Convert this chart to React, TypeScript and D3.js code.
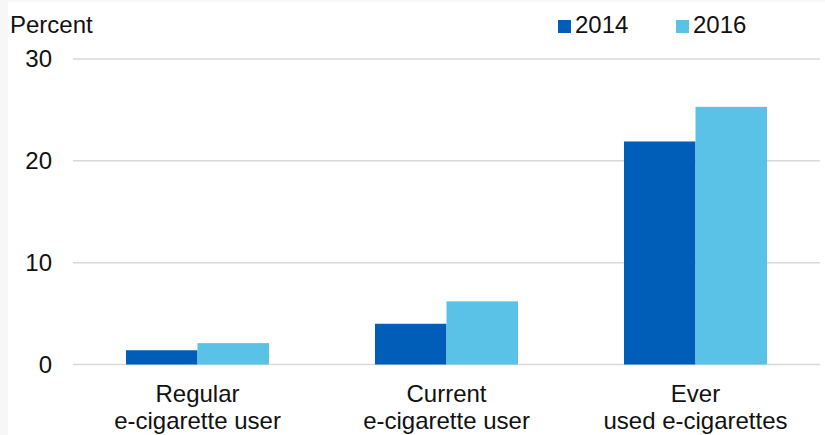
import React, { useEffect, useRef } from 'react';
import * as d3 from 'd3';

const categories = ['Regular\ne-cigarette user', 'Current\ne-cigarette user', 'Ever\nused e-cigarettes'];
const seriesNames = ['2014', '2016'];
const values2014 = [1.4, 4.0, 21.9];
const values2016 = [2.1, 6.2, 25.3];
const yTicks = [0, 10, 20, 30];

const colors = ['#005EB8', '#5BC2E7'];

const App: React.FC = () => {
  const svgRef = useRef<SVGSVGElement>(null);

  useEffect(() => {
    if (!svgRef.current) return;
    const width = 825;
    const height = 435;
    const font = '"Liberation Sans", Arial, sans-serif';
    const fs = 24;

    const svg = d3.select(svgRef.current);
    svg.selectAll('*').remove();
    svg.attr('width', width).attr('height', height);

    // faint frame on the left/top edges
    svg.append('rect').attr('width', width).attr('height', height).attr('fill', '#f7f7f7');
    svg.append('rect').attr('x', 8).attr('y', 2).attr('width', width - 8).attr('height', height - 2).attr('fill', '#fff');

    const x0 = d3.scaleBand<string>().domain(categories).range([73, 820]).padding(0);
    const x1 = d3.scaleBand<string>().domain(seriesNames).range([53, 196]).padding(0);
    const y = d3.scaleLinear().domain([0, 30]).range([364.5, 59]);

    // gridlines
    svg.append('g')
      .selectAll('line')
      .data(yTicks)
      .join('line')
      .attr('x1', 73)
      .attr('x2', 820)
      .attr('y1', d => y(d))
      .attr('y2', d => y(d))
      .attr('stroke', '#d9d9d9')
      .attr('stroke-width', 1.5);

    // y tick labels
    svg.append('g')
      .selectAll('text')
      .data(yTicks)
      .join('text')
      .attr('x', 52)
      .attr('y', d => y(d))
      .attr('dy', '0.35em')
      .attr('text-anchor', 'end')
      .attr('font-family', font)
      .attr('font-size', fs)
      .attr('fill', '#111')
      .text(d => d);

    svg.append('text')
      .attr('x', 10)
      .attr('y', 33)
      .attr('font-family', font)
      .attr('font-size', fs)
      .attr('fill', '#111')
      .text('Percent');

    // bars
    const rows = categories.map((c, i) => ({ c, vals: [values2014[i], values2016[i]] }));
    const groups = svg.append('g')
      .selectAll('g')
      .data(rows)
      .join('g')
      .attr('transform', d => `translate(${x0(d.c)},0)`);

    groups.selectAll('rect')
      .data(d => d.vals.map((v, k) => ({ k, v })))
      .join('rect')
      .attr('x', d => x1(seriesNames[d.k])!)
      .attr('width', x1.bandwidth())
      .attr('y', d => y(d.v))
      .attr('height', d => y(0) - y(d.v))
      .attr('fill', d => colors[d.k]);

    // category labels
    const labels = svg.append('g')
      .selectAll('text')
      .data(categories)
      .join('text')
      .attr('x', d => x0(d)! + x0.bandwidth() / 2)
      .attr('y', 402)
      .attr('text-anchor', 'middle')
      .attr('font-family', font)
      .attr('font-size', fs)
      .attr('fill', '#111');
    labels.selectAll('tspan')
      .data(d => d.split('\n'))
      .join('tspan')
      .attr('x', function () { return (this as any).parentNode.getAttribute('x'); })
      .attr('dy', (_d, i) => (i === 0 ? 0 : 27))
      .text(d => d);

    // legend
    const legendX = [558, 676];
    const legend = svg.append('g')
      .selectAll('g')
      .data(seriesNames)
      .join('g')
      .attr('transform', (_d, i) => `translate(${legendX[i]},20)`);
    legend.append('rect').attr('width', 13).attr('height', 13).attr('fill', (_d, i) => colors[i]);
    legend.append('text')
      .attr('x', 17)
      .attr('y', 13)
      .attr('font-family', font)
      .attr('font-size', fs)
      .attr('fill', '#111')
      .text(d => d);
  }, []);

  return <svg ref={svgRef} style={{ position: 'absolute', left: 0, top: 0 }} />;
};

export default App;
